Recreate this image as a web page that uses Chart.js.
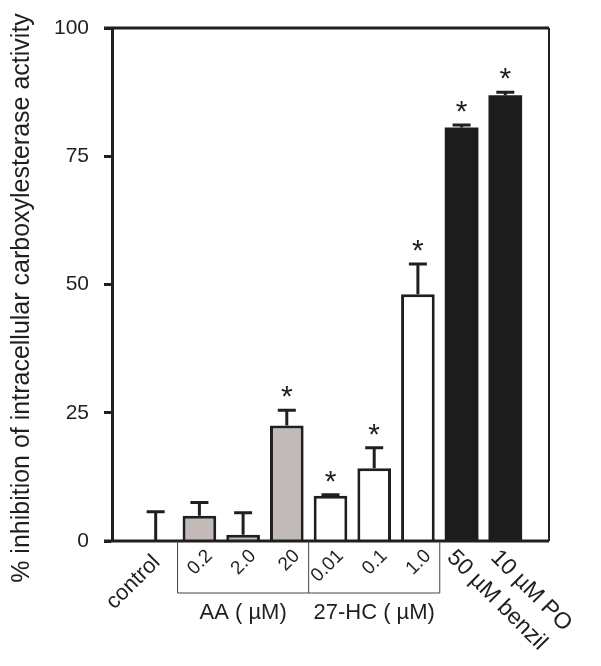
<!DOCTYPE html>
<html>
<head>
<meta charset="utf-8">
<script src="https://cdn.jsdelivr.net/npm/chart.js@4.4.0/dist/chart.umd.min.js"></script>
<style>
  body { margin: 0; background: #fff; }
  #wrap { width: 601px; height: 666px; }
</style>
</head>
<body>
<div id="wrap"><canvas id="chartInhibition"></canvas></div>
<script>
// dữ liệu
const categories = ['control', '0.2', '2.0', '20', '0.01', '0.1', '1.0', '50 µM benzil', '10 µM PO'];
const inhibition = [0, 4.9, 1.2, 22.5, 8.8, 14.2, 48.1, 80.6, 86.9];
const errorUp = [5.7, 2.6, 4.3, 3.0, 0.2, 4.0, 5.9, 0.5, 0.6];
const significant = [false, false, false, true, true, true, true, true, true];
const groupNames = ['AA ( µM)', '27-HC ( µM)'];
const groupRanges = [[1, 3], [4, 6]];   // chỉ số trong categories
const yTicks = [0, 25, 50, 75, 100];

const fills = ['#ffffff', '#c1bab6', '#c1bab6', '#c1bab6', '#ffffff', '#ffffff', '#ffffff', '#1c1c1c', '#1c1c1c'];
const ink = '#1f1f1f';
const FONT = '"Liberation Sans", Arial, sans-serif';

// thêm ô trống hai đầu để có khoảng cách như hình gốc
const labels = [''].concat(categories, ['']);
const values = [null].concat(inhibition, [null]);

const decorPlugin = {
    id: 'decor',
    afterDatasetsDraw(chart) {
        const ctx = chart.ctx;
        const x = chart.scales.x, y = chart.scales.y;
        const area = chart.chartArea;
        const px = function (i) { return x.getPixelForValue(i + 1); };  // i = chỉ số trong categories
        ctx.save();
        ctx.strokeStyle = ink;
        ctx.fillStyle = ink;

        // error bars + dấu sao
        inhibition.forEach(function (v, i) {
            const cx = px(i);
            const yTop = y.getPixelForValue(v + errorUp[i]);
            const yBar = y.getPixelForValue(v);
            ctx.lineWidth = 3;
            ctx.beginPath();
            ctx.moveTo(cx, yBar);
            ctx.lineTo(cx, yTop);
            ctx.moveTo(cx - 9, yTop);
            ctx.lineTo(cx + 9, yTop);
            ctx.stroke();
            if (significant[i]) {
                ctx.font = '30px ' + FONT;
                ctx.textAlign = 'center';
                ctx.textBaseline = 'middle';
                ctx.fillText('*', cx, yTop - 12);
            }
        });

        // khung trên, phải, dưới
        ctx.lineWidth = 3;
        ctx.beginPath();
        ctx.moveTo(area.left - 8, area.top);
        ctx.lineTo(area.right, area.top);
        ctx.moveTo(area.left - 8, area.bottom);
        ctx.lineTo(area.right, area.bottom);
        ctx.stroke();
        ctx.lineWidth = 2;
        ctx.beginPath();
        ctx.moveTo(area.right, area.top);
        ctx.lineTo(area.right, area.bottom);
        ctx.stroke();

        // nhãn trục x
        categories.forEach(function (c, i) {
            const cx = px(i);
            ctx.save();
            ctx.textBaseline = 'middle';
            if (i === 0) {
                ctx.font = '22px ' + FONT;
                ctx.translate(cx + 1, area.bottom + 18);
                ctx.rotate(-Math.PI / 4);
                ctx.textAlign = 'right';
            } else if (i < 7) {
                ctx.font = '19px ' + FONT;
                ctx.translate(cx + 10, area.bottom + 12);
                ctx.rotate(-Math.PI / 4);
                ctx.textAlign = 'right';
            } else {
                ctx.font = '23px ' + FONT;
                ctx.translate(cx - 11, area.bottom + 13);
                ctx.rotate(Math.PI / 4);
                ctx.textAlign = 'left';
            }
            ctx.fillText(c, 0, 0);
            ctx.restore();
        });

        // ngoặc nhóm AA / 27-HC
        ctx.lineWidth = 1;
        ctx.strokeStyle = '#444';
        const yb = area.bottom + 52;
        const xs = [px(0.5), px(3.5), px(6.5)];
        ctx.beginPath();
        xs.forEach(function (p) {
            ctx.moveTo(p, area.bottom);
            ctx.lineTo(p, yb);
        });
        ctx.moveTo(xs[0], yb);
        ctx.lineTo(xs[2], yb);
        ctx.stroke();

        ctx.font = '22px ' + FONT;
        ctx.textAlign = 'center';
        ctx.textBaseline = 'alphabetic';
        groupRanges.forEach(function (r, g) {
            const mid = (px(r[0]) + px(r[1])) / 2;
            ctx.fillText(groupNames[g], mid, yb + 26);
        });

        // tiêu đề trục y
        ctx.save();
        ctx.font = '25px ' + FONT;
        ctx.translate(29, 298);
        ctx.rotate(-Math.PI / 2);
        ctx.textAlign = 'center';
        ctx.textBaseline = 'alphabetic';
        ctx.fillText('% inhibition of intracellular carboxylesterase activity', 0, 0);
        ctx.restore();

        ctx.restore();
    }
};

document.addEventListener('DOMContentLoaded', function () {
    var ctx = document.getElementById('chartInhibition').getContext('2d');
    new Chart(ctx, {
        type: 'bar',
        data: {
            labels: labels,
            datasets: [{
                data: values,
                backgroundColor: [null].concat(fills, [null]),
                borderColor: ink,
                borderWidth: [0, 0, 3, 3, 3, 3, 3, 3, 0, 0, 0],
                borderSkipped: 'start',
                categoryPercentage: 1,
                barPercentage: 0.77
            }]
        },
        options: {
            responsive: true,
            maintainAspectRatio: false,
            animation: false,
            layout: { padding: { left: 0, top: 28, right: 52, bottom: 0 } },
            plugins: { legend: { display: false }, tooltip: { enabled: false } },
            scales: {
                x: {
                    offset: false,
                    grid: { display: false },
                    border: { display: false },
                    ticks: { display: false },
                    afterFit: function (s) { s.height = 125; }
                },
                y: {
                    min: 0,
                    max: 100,
                    afterBuildTicks: function (s) { s.ticks = yTicks.map(function (v) { return { value: v }; }); },
                    afterFit: function (s) { s.width = 112; },
                    grid: { drawOnChartArea: false, drawTicks: true, tickLength: 8, tickWidth: 3, tickColor: ink },
                    border: { display: true, width: 3, color: ink },
                    ticks: { color: ink, padding: 15, font: { family: FONT, size: 21 } }
                }
            }
        },
        plugins: [decorPlugin]
    });
});
</script>
</body>
</html>
